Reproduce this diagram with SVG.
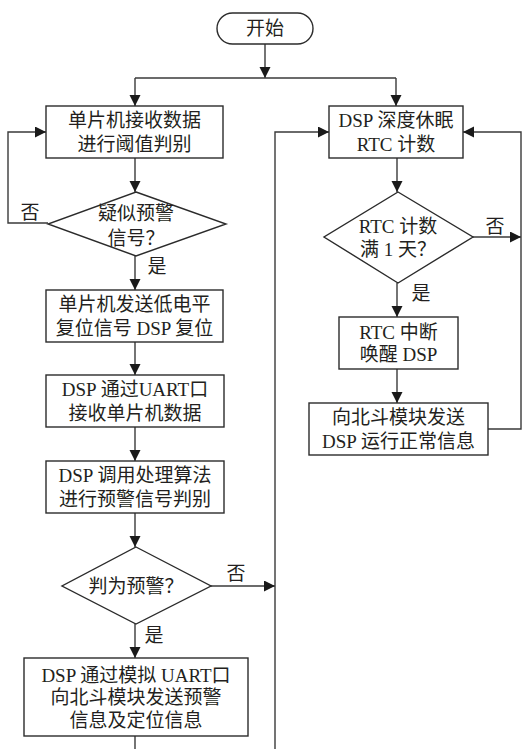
<svg xmlns="http://www.w3.org/2000/svg" width="527" height="749" viewBox="0 0 527 749">
<style>
.n{fill:#fff;stroke:#2b2b2b;stroke-width:1.4}
.c{fill:none;stroke:#3a3a3a;stroke-width:1.4}
text{font-family:"Liberation Serif","Noto Sans CJK SC",serif;font-size:19px;fill:#231f20;text-anchor:middle;dominant-baseline:central}
.l{font-size:19px}
</style>
<defs>
<marker id="a" markerUnits="userSpaceOnUse" markerWidth="12" markerHeight="12" refX="11" refY="5.5" orient="auto">
<path d="M0,0 L11,5.5 L0,11 z" fill="#1a1a1a"/>
</marker>
</defs>
<rect width="527" height="749" fill="#fff"/>
<g id="connectors">
<path class="c" d="M265,44 V78" marker-end="url(#a)"/>
<path class="c" d="M135,78 H396"/>
<path class="c" d="M135,78 V106" marker-end="url(#a)"/>
<path class="c" d="M396,78 V106" marker-end="url(#a)"/>
<path class="c" d="M135,158 V192" marker-end="url(#a)"/>
<path class="c" d="M48,223 H8 V132 H46" marker-end="url(#a)"/>
<path class="c" d="M135,256 V290" marker-end="url(#a)"/>
<path class="c" d="M135,342 V375" marker-end="url(#a)"/>
<path class="c" d="M135,427 V461" marker-end="url(#a)"/>
<path class="c" d="M135,513 V547" marker-end="url(#a)"/>
<path class="c" d="M211,586 H275" marker-end="url(#a)"/>
<path class="c" d="M135,624 V658" marker-end="url(#a)"/>
<path class="c" d="M135,736 V749"/>
<path class="c" d="M275,749 V132 H329" marker-end="url(#a)"/>
<path class="c" d="M397,158 V192" marker-end="url(#a)"/>
<path class="c" d="M473,237 H521" marker-end="url(#a)"/>
<path class="c" d="M397,283 V317" marker-end="url(#a)"/>
<path class="c" d="M397,369 V403" marker-end="url(#a)"/>
<path class="c" d="M488,429 H521 V132 H463" marker-end="url(#a)"/>
<text x="30" y="212">否</text>
<text x="157" y="266">是</text>
<text x="236" y="573">否</text>
<text x="154" y="635">是</text>
<text x="495" y="226">否</text>
<text x="421" y="293">是</text>
</g>
<g id="start">
<rect class="n" x="217" y="13" width="96" height="31" rx="15.5"/>
<text x="265" y="28.5">开始</text>
</g>
<g id="recv">
<rect class="n" x="46" y="106" width="177" height="52"/>
<text x="134.5" y="120">单片机接收数据</text>
<text x="134.5" y="144">进行阈值判别</text>
</g>
<g id="suspect">
<path class="n" d="M136,192 L226,224 L136,256 L48,224 Z"/>
<text x="136" y="213">疑似预警</text>
<text x="136" y="238">信号？</text>
</g>
<g id="reset">
<rect class="n" x="46" y="290" width="177" height="52"/>
<text x="134.5" y="304">单片机发送低电平</text>
<text x="134.5" y="328">复位信号 DSP 复位</text>
</g>
<g id="uart">
<rect class="n" x="46" y="375" width="178" height="52"/>
<text x="135" y="389">DSP 通过UART口</text>
<text x="135" y="413">接收单片机数据</text>
</g>
<g id="algo">
<rect class="n" x="46" y="461" width="178" height="52"/>
<text x="135" y="475">DSP 调用处理算法</text>
<text x="135" y="499">进行预警信号判别</text>
</g>
<g id="judge">
<path class="n" d="M136,547 L211,586 L136,624 L62,586 Z"/>
<text x="136" y="586">判为预警？</text>
</g>
<g id="send">
<rect class="n" x="24" y="658" width="224" height="78"/>
<text x="136" y="675">DSP 通过模拟 UART口</text>
<text x="136" y="697.5">向北斗模块发送预警</text>
<text x="136" y="720">信息及定位信息</text>
</g>
<g id="sleep">
<rect class="n" x="329" y="106" width="134" height="52"/>
<text x="396" y="120">DSP 深度休眠</text>
<text x="396" y="144">RTC 计数</text>
</g>
<g id="rtcfull">
<path class="n" d="M398,192 L473,237 L398,283 L324,237 Z"/>
<text x="398" y="226">RTC 计数</text>
<text x="398" y="249">满 1 天？</text>
</g>
<g id="wake">
<rect class="n" x="339" y="317" width="119" height="52"/>
<text x="398.5" y="332">RTC 中断</text>
<text x="398.5" y="354">唤醒 DSP</text>
</g>
<g id="report">
<rect class="n" x="309" y="403" width="179" height="52"/>
<text x="398.5" y="417">向北斗模块发送</text>
<text x="398.5" y="441">DSP 运行正常信息</text>
</g>
</svg>
